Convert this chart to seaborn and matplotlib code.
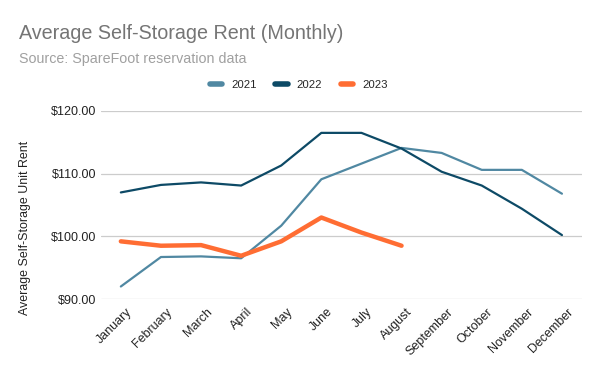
import numpy as np
import pandas as pd
import seaborn as sns
import matplotlib.pyplot as plt
import matplotlib.transforms as mtransforms
from matplotlib.lines import Line2D

months = ["January", "February", "March", "April", "May", "June", "July",
          "August", "September", "October", "November", "December"]
rent_2021 = [92.0, 96.7, 96.8, 96.5, 101.7, 109.1, 111.6, 114.1, 113.3, 110.6, 110.6, 106.8]
rent_2022 = [107.0, 108.2, 108.6, 108.1, 111.3, 116.5, 116.5, 114.0, 110.3, 108.1, 104.4, 100.2]
rent_2023 = [99.2, 98.5, 98.6, 96.9, 99.2, 103.0, 100.6, 98.5]

years = ["2021", "2022", "2023"]
colors = {"2021": "#5088a2", "2022": "#0d4a66", "2023": "#ff6d33"}
widths = {"2021": 1.6, "2022": 1.6, "2023": 3.2}

rows = []
for year, vals in zip(years, [rent_2021, rent_2022, rent_2023]):
    for i, v in enumerate(vals):
        rows.append({"month": months[i], "idx": i, "rent": v, "year": year})
df = pd.DataFrame(rows)

sns.set_theme(style="white")
plt.rcParams['font.family'] = ['Liberation Sans', 'DejaVu Sans']

fig = plt.figure(figsize=(6, 3.71), dpi=100)
ax = fig.add_axes([0.168, 0.194, 0.802, 0.507])

for year in years:
    sub = df[df["year"] == year]
    sns.lineplot(data=sub, x="idx", y="rent", ax=ax, color=colors[year],
                 linewidth=widths[year], legend=False)

ax.set_xlim(-0.5, 11.5)
ax.set_ylim(90, 120)
ax.set_yticks([90, 100, 110, 120])
ax.set_yticklabels([f"${v:.2f}" for v in [90, 100, 110, 120]], fontsize=9, color="#222222")
ax.set_xticks(range(12))
ax.set_xticklabels(months, rotation=45, ha="right", rotation_mode="anchor",
                   fontsize=9, color="#222222")
ax.tick_params(axis="y", length=0, pad=3.5)
ax.tick_params(axis="x", length=0, pad=5)
shift = mtransforms.ScaledTranslation(0.05, 0.0, fig.dpi_scale_trans)
for lbl in ax.get_xticklabels():
    lbl.set_transform(lbl.get_transform() + shift)
ax.grid(axis="y", color="#cccccc", linewidth=0.9)
ax.set_axisbelow(True)
for s in ax.spines.values():
    s.set_visible(False)
ax.set_xlabel("")
ax.set_ylabel("Average Self-Storage Unit Rent", fontsize=8.9, color="#222222")
ax.yaxis.set_label_coords(-0.1455, 0.38)

fig.text(0.032, 0.91, "Average Self-Storage Rent (Monthly)", fontsize=14.2,
         color="#757575", va="center")
fig.text(0.032, 0.842, "Source: SpareFoot reservation data", fontsize=10.3,
         color="#a0a0a0", va="center")

handles = [Line2D([0], [0], color=colors[y], linewidth=4) for y in years]
fig.legend(handles, years, loc="center", bbox_to_anchor=(0.498, 0.772), ncol=3,
           frameon=False, fontsize=8.2, handlelength=1.1, columnspacing=1.6,
           handletextpad=0.8)

fig.savefig("out.png", dpi=100)
